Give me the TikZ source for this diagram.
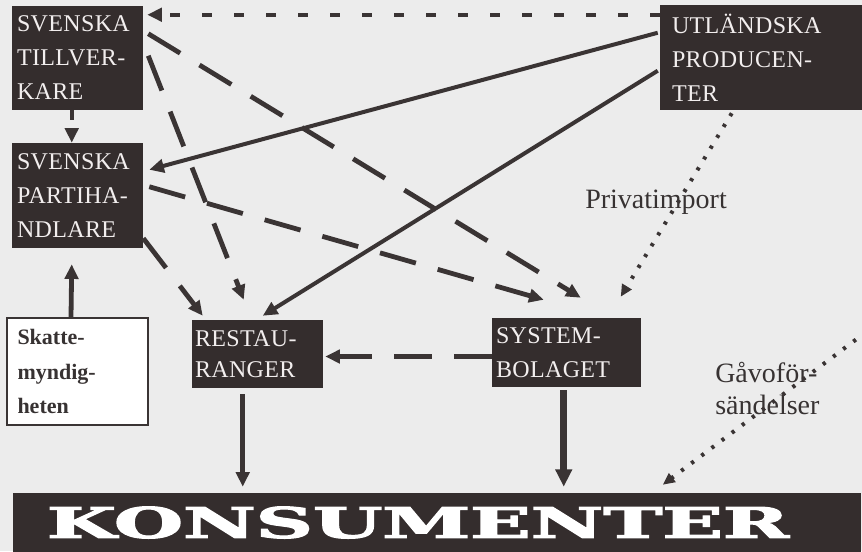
\documentclass[tikz,border=0pt]{standalone}
\usepackage{fontspec}
\usepackage{graphicx}
\setmainfont{Liberation Serif}
\newfontfamily\boxfont[LetterSpace=1.5]{Liberation Serif}
\newfontfamily\konsfont[FakeBold=2.5]{DejaVu Serif Bold}
\usetikzlibrary{arrows.meta,calc}
\definecolor{bg}{RGB}{236,236,236}
\definecolor{boxc}{RGB}{52,45,45}
\definecolor{boxt}{RGB}{242,238,238}
\definecolor{linec}{RGB}{58,52,52}
\definecolor{labc}{RGB}{55,50,50}
\begin{document}
\begin{tikzpicture}[x=0.75pt,y=-0.75pt,
  darkbox/.style={rectangle, fill=boxc, text=boxt, align=left,
    font=\boxfont\fontsize{18}{25.5}\selectfont, inner ysep=1pt},
  whitebox/.style={rectangle, fill=white, draw=linec, line width=1.5pt, text=labc, align=left,
    font=\bfseries\fontsize{16.5}{26}\selectfont, inner ysep=2pt},
  lab/.style={text=labc, font=\fontsize{21}{24}\selectfont, inner sep=0pt, align=left},
  conn/.style={draw=linec, line width=3pt, -{Triangle[length=11pt,width=10pt]}},
  longdash/.style={conn, line width=3.6pt, dash pattern=on 28pt off 17pt},
  shortdash/.style={conn, line width=3.2pt, dash pattern=on 7.5pt off 16.5pt},
  dotline/.style={draw=linec, line width=3pt, dash pattern=on 2.4pt off 7.1pt, -{Triangle[length=9pt,width=8pt]}}
]
\fill[bg] (0,0) rectangle (862,551);
\useasboundingbox (0,0) rectangle (862,551);

% boxes
\node[darkbox, minimum width=98.25pt, minimum height=78pt, inner xsep=3.75pt, text width=90.75pt]
  (tillv) at (77.5,58) {SVENSKA\\TILLVER-\\KARE};
\node[darkbox, minimum width=98.25pt, minimum height=78.75pt, inner xsep=3.75pt, text width=90.75pt]
  (parti) at (77.5,195.5) {SVENSKA\\PARTIHA-\\NDLARE};
\node[darkbox, minimum width=151.5pt, minimum height=78.75pt, inner xsep=9pt, text width=133.5pt]
  (utl) at (761,57.5) {UTLÄNDSKA\\PRODUCEN-\\TER};
\node[whitebox, minimum width=105.75pt, minimum height=80.25pt, inner xsep=7pt, text width=90pt]
  (skatte) at (77.5,371.5) {Skatte-\\myndig-\\heten};
\node[darkbox, minimum width=98.25pt, minimum height=51pt, inner xsep=2.25pt, text width=93.75pt, font=\boxfont\fontsize{18}{23}\selectfont]
  (rest) at (257.5,354) {RESTAU-\\RANGER};
\node[darkbox, minimum width=111.75pt, minimum height=51.75pt, inner xsep=3pt, text width=105.75pt, font=\boxfont\fontsize{18}{25}\selectfont]
  (sys) at (566.5,352.5) {SYSTEM-\\BOLAGET};
\node[rectangle, fill=boxc, text=white, minimum width=636pt, minimum height=44.25pt, inner xsep=0pt, inner ysep=0pt,
  text width=636pt, align=left, font=\konsfont\fontsize{34}{34}\selectfont]
  (kons) at (437,522.5) {\hspace*{25.5pt}\resizebox{556.5pt}{23.5pt}{KONSUMENTER}};

% labels
\node[lab, anchor=base west] (priv) at (585,208) {Privatimport};
\node[lab, anchor=north west] (gavo) at (715,362) {Gåvoför-\\sändelser};
\coordinate (gstart) at (866,332);

% connectors
\draw[shortdash] ($(utl.north west)+(0,10)$) -- ($(tillv.north east)+(4,9)$);
\draw[conn] ($(utl.north west)+(-2,28)$) -- ($(parti.north east)+(6,27)$);
\draw[conn] ($(utl.north west)+(-2,66)$) -- ($(rest.north west)+(71,-4)$);
\draw[dotline] ($(utl.south west)+(72,3)$) -- ($(sys.north west)+(129,-21)$);
\draw[dotline] (gstart) -- ($(kons.north west)+(650,-8)$);
\draw[shortdash] ($(tillv.south west)+(60,0)$) -- ($(parti.north west)+(60,0)$);
\draw[longdash] ($(tillv.north east)+(5,28)$) -- ($(sys.north west)+(89,-20)$);
\draw[longdash] ($(tillv.north east)+(5,50)$) -- ($(rest.north west)+(52,-20)$);
\draw[longdash] ($(parti.south east)+(0,-10)$) -- ($(rest.north west)+(11,-4)$);
\draw[longdash] ($(parti.north east)+(6,44)$) -- ($(sys.north west)+(52,-18)$);
\draw[longdash] ($(sys.west)+(0,4)$) -- ($(rest.east)+(2,2.5)$);
\draw[conn, line width=3.6pt] ($(skatte.north west)+(65,0)$) -- ($(parti.south west)+(60,16)$);
\draw[conn, line width=3.4pt] ($(rest.south west)+(51,6)$) -- ($(kons.north west)+(230,-6)$);
\draw[conn, line width=5pt, -{Triangle[length=13pt,width=12pt]}] ($(sys.south west)+(72,3)$) -- ($(kons.north west)+(551,-6)$);
\end{tikzpicture}
\end{document}
